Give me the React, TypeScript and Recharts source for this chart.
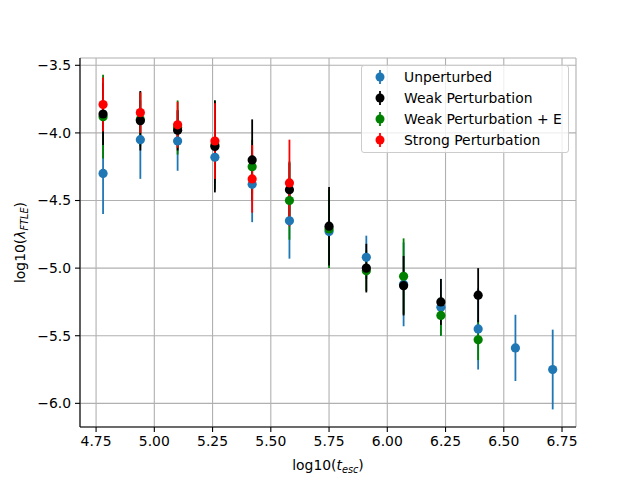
import React from "react";
import {
  ScatterChart,
  Scatter,
  XAxis,
  YAxis,
  CartesianGrid,
  ErrorBar,
  Legend,
} from "recharts";

const xValues = [4.78, 4.94, 5.1, 5.26, 5.42, 5.58, 5.75, 5.91, 6.07, 6.23, 6.39, 6.55, 6.71];

const unperturbed = [-4.3, -4.05, -4.06, -4.18, -4.38, -4.65, -4.73, -4.92, -5.12, -5.29, -5.45, -5.59, -5.75];
const unperturbedErr = [0.3, 0.29, 0.22, 0.2, 0.28, 0.28, 0.25, 0.16, 0.31, 0.21, 0.3, 0.245, 0.295];

const weak = [-3.86, -3.91, -3.98, -4.1, -4.2, -4.42, -4.69, -5.0, -5.13, -5.25, -5.2];
const weakErr = [0.23, 0.22, 0.15, 0.34, 0.3, 0.2, 0.29, 0.18, 0.22, 0.17, 0.2];

const weakE = [-3.88, -3.9, -3.96, -4.09, -4.25, -4.5, -4.71, -5.02, -5.06, -5.35, -5.53];
const weakEErr = [0.31, 0.2, 0.2, 0.33, 0.2, 0.29, 0.29, 0.15, 0.28, 0.15, 0.15];

const strong = [-3.79, -3.85, -3.94, -4.06, -4.34, -4.37];
const strongErr = [0.2, 0.15, 0.17, 0.28, 0.25, 0.32];

const xTicks = [4.75, 5.0, 5.25, 5.5, 5.75, 6.0, 6.25, 6.5, 6.75];
const yTicks = [-6.0, -5.5, -5.0, -4.5, -4.0, -3.5];

const build = (vals: number[], errs: number[]) =>
  vals.map((y, i) => ({ x: xValues[i], y, err: errs[i] }));

// legend order
const series = [
  { name: "Unperturbed", color: "#1f77b4", data: build(unperturbed, unperturbedErr) },
  { name: "Weak Perturbation", color: "#000000", data: build(weak, weakErr) },
  { name: "Weak Perturbation + E", color: "#008000", data: build(weakE, weakEErr) },
  { name: "Strong Perturbation", color: "#ff0000", data: build(strong, strongErr) },
];
// drawing order (green sits under black in the picture)
const drawOrder = [0, 2, 1, 3];

const FONT = "DejaVu Sans, sans-serif";
const FS = 13.9;

const fmtY = (v: number) => (v < 0 ? "\u2212" + Math.abs(v).toFixed(1) : v.toFixed(1));
const fmtX = (v: number) => v.toFixed(2);

const XLabel = (props: any) => {
  const { x, y, width } = props.viewBox;
  return (
    <text x={x + width / 2} y={y + 43} textAnchor="middle" fontFamily={FONT} fontSize={FS} fill="#000">
      log10(
      <tspan fontStyle="italic">t</tspan>
      <tspan fontStyle="italic" fontSize={FS * 0.7} dy={3}>esc</tspan>
      <tspan dy={-3}>)</tspan>
    </text>
  );
};

const YLabel = (props: any) => {
  const { y, height } = props.viewBox;
  const cx = 25;
  const cy = y + height / 2;
  return (
    <text
      x={cx}
      y={cy}
      transform={`rotate(-90, ${cx}, ${cy})`}
      textAnchor="middle"
      fontFamily={FONT}
      fontSize={FS}
      fill="#000"
    >
      log10(
      <tspan fontStyle="italic">λ</tspan>
      <tspan fontStyle="italic" fontSize={FS * 0.7} dy={3}>FTLE</tspan>
      <tspan dy={-3}>)</tspan>
    </text>
  );
};

const LegendBox = () => (
  <div
    style={{
      background: "rgba(255,255,255,0.8)",
      border: "1px solid #cccccc",
      borderRadius: 3,
      padding: "0px 6px 2px 8px",
      fontFamily: FONT,
      fontSize: FS,
      color: "#000",
    }}
  >
    {series.map((s) => (
      <div key={s.name} style={{ display: "flex", alignItems: "center", height: 21 }}>
        <svg width={20} height={20} style={{ marginRight: 14, marginLeft: 0 }}>
          <line x1={10} x2={10} y1={3} y2={17} stroke={s.color} strokeWidth={1.8} />
          <circle cx={10} cy={10} r={4.5} fill={s.color} />
        </svg>
        <span>{s.name}</span>
      </div>
    ))}
  </div>
);

const Dot = (color: string) => (props: any) => {
  const { cx, cy } = props;
  if (cx == null || cy == null) return null;
  return <circle cx={cx} cy={cy} r={4.6} fill={color} />;
};

const NoDot = () => null;

export default function App() {
  return (
    <div style={{ position: "absolute", left: 0, top: 0, width: 640, height: 480, background: "#fff" }}>
      <ScatterChart width={640} height={480} margin={{ top: 58, right: 64, bottom: 0, left: 0 }}>
        <CartesianGrid stroke="#b0b0b0" strokeWidth={1.1} />
        <XAxis
          type="number"
          dataKey="x"
          domain={[4.681, 6.81]}
          ticks={xTicks}
          tickFormatter={fmtX}
          allowDataOverflow
          height={53}
          tickSize={5}
          tickMargin={4}
          axisLine={{ stroke: "#000", strokeWidth: 1.1 }}
          tickLine={{ stroke: "#000", strokeWidth: 1.1 }}
          tick={{ fill: "#000", fontFamily: FONT, fontSize: FS }}
          label={<XLabel />}
        />
        <XAxis
          xAxisId="top"
          orientation="top"
          type="number"
          dataKey="x"
          domain={[4.681, 6.81]}
          height={0}
          tick={false}
          tickLine={false}
          axisLine={{ stroke: "#000", strokeWidth: 1.1 }}
        />
        <YAxis
          type="number"
          dataKey="y"
          domain={[-6.175, -3.446]}
          ticks={yTicks}
          tickFormatter={fmtY}
          allowDataOverflow
          width={80}
          tickSize={5}
          tickMargin={4}
          axisLine={{ stroke: "#000", strokeWidth: 1.1 }}
          tickLine={{ stroke: "#000", strokeWidth: 1.1 }}
          tick={{ fill: "#000", fontFamily: FONT, fontSize: FS }}
          label={<YLabel />}
        />
        <YAxis
          yAxisId="right"
          orientation="right"
          type="number"
          dataKey="y"
          domain={[-6.175, -3.446]}
          width={0}
          tick={false}
          tickLine={false}
          axisLine={{ stroke: "#000", strokeWidth: 1.1 }}
        />
        {/* error bars first, all under the markers */}
        {drawOrder.map((k) => {
          const s = series[k];
          return (
            <Scatter
              key={"bars-" + s.name}
              name={s.name + " bars"}
              data={s.data}
              fill={s.color}
              shape={NoDot}
              legendType="none"
              isAnimationActive={false}
            >
              <ErrorBar dataKey="err" direction="y" width={0} stroke={s.color} strokeWidth={1.8} />
            </Scatter>
          );
        })}
        {drawOrder.map((k) => {
          const s = series[k];
          return (
            <Scatter
              key={s.name}
              name={s.name}
              data={s.data}
              fill={s.color}
              shape={Dot(s.color)}
              isAnimationActive={false}
            />
          );
        })}
        <Legend
          layout="vertical"
          align="center"
          verticalAlign="middle"
          wrapperStyle={{ left: 361, top: 65, width: "auto", height: "auto" }}
          content={<LegendBox />}
        />
      </ScatterChart>
    </div>
  );
}
